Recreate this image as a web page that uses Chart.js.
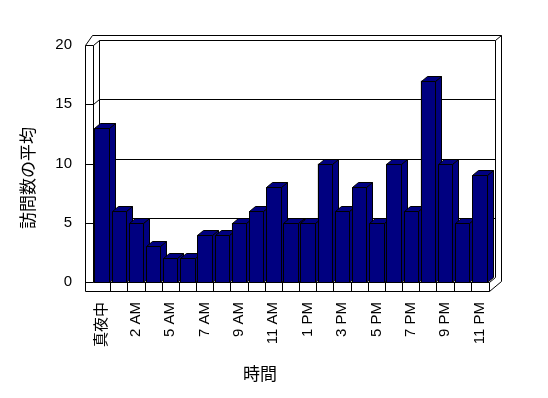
<!DOCTYPE html>
<html lang="ja">
<head>
  <meta charset="UTF-8" />
  <title>訪問数の平均</title>
  <script src="https://cdn.jsdelivr.net/npm/chart.js"></script>
  <style>
    body { margin: 0; background: #fff; }
    #grafico { display: block; }
  </style>
</head>
<body>
  <canvas id="grafico" width="548" height="398"></canvas>

  <script>
    // データ（4 AM の行はない）
    const hours = ['真夜中', '1 AM', '2 AM', '3 AM', '5 AM', '6 AM', '7 AM', '8 AM', '9 AM', '10 AM', '11 AM', '正午',
      '1 PM', '2 PM', '3 PM', '4 PM', '5 PM', '6 PM', '7 PM', '8 PM', '9 PM', '10 PM', '11 PM'];
    const visits = [13, 6, 5, 3, 2, 2, 4, 4, 5, 6, 8, 5, 5, 10, 6, 8, 5, 10, 6, 17, 10, 5, 9];
    const yTicks = [0, 5, 10, 15, 20];
    const xTitle = '時間';
    const yTitle = '訪問数の平均';

    const NAVY = '#000080';
    const DX = 6, DY = 5;   // 奥行き
    const WALL = 8, FLOOR = 9;
    const FONT = "'Liberation Sans', 'Noto Sans CJK JP', sans-serif";
    const JP = "'Noto Sans CJK JP', sans-serif";

    function seg(ctx, pts) {
      ctx.beginPath();
      pts.forEach(([px, py], i) => i ? ctx.lineTo(px + 0.5, py + 0.5) : ctx.moveTo(px + 0.5, py + 0.5));
      ctx.stroke();
    }
    function face(ctx, pts) {
      ctx.beginPath();
      pts.forEach(([px, py], i) => i ? ctx.lineTo(px + 0.5, py + 0.5) : ctx.moveTo(px + 0.5, py + 0.5));
      ctx.closePath();
      ctx.fill();
      ctx.stroke();
    }

    // 壁・床・目盛線
    const walls = {
      id: 'walls',
      beforeDatasetsDraw(chart) {
        const { ctx, chartArea: a, scales: { x, y } } = chart;
        const L = Math.round(a.left), R = Math.round(a.right), T = Math.round(a.top), B = Math.round(a.bottom);
        ctx.save();
        ctx.strokeStyle = '#000';
        ctx.lineWidth = 1;
        // 外枠
        seg(ctx, [[L - WALL, B + FLOOR], [L - WALL, T], [L - 1, T - 2 * DY], [R + 2 * DX + 1, T - 2 * DY],
          [R + 2 * DX + 1, B - 1], [R + 1, B + FLOOR], [L - WALL, B + FLOOR]]);
        // 内側の線
        seg(ctx, [[L, T], [L, B]]);
        seg(ctx, [[L, T], [L + DX, T - DY], [R + DX + 1, T - DY], [R + 2 * DX + 1, T - 2 * DY]]);
        seg(ctx, [[R + DX + 1, T - DY], [R + DX + 1, B - DY]]);
        seg(ctx, [[L + DX, T - DY], [L + DX, B - DY]]);
        seg(ctx, [[L, B], [R + 1, B], [R + 1, B + FLOOR]]);
        seg(ctx, [[R + 1, B], [R + DX + 1, B - DY]]);
        // 目盛線
        yTicks.forEach(v => {
          const yy = Math.round(y.getPixelForValue(v));
          seg(ctx, [[L - WALL, yy], [L, yy]]);
          if (v > 0 && v < 20) seg(ctx, [[L, yy], [L + DX, yy - DY], [R + DX + 1, yy - DY]]);
        });
        // 床の区切り
        for (let i = 1; i < hours.length; i++) {
          const xx = Math.round((x.getPixelForValue(i - 1) + x.getPixelForValue(i)) / 2);
          seg(ctx, [[xx, B], [xx, B + FLOOR]]);
        }
        ctx.restore();
      },
      afterDatasetsDraw(chart) {
        const { ctx } = chart;
        ctx.save();
        ctx.strokeStyle = '#000';
        ctx.fillStyle = NAVY;
        ctx.lineWidth = 1;
        chart.getDatasetMeta(0).data.forEach(bar => {
          const p = bar.getProps(['x', 'y', 'base', 'width'], true);
          const l = Math.round(p.x - p.width / 2), r = Math.round(p.x + p.width / 2);
          const t = Math.round(p.y), b = Math.round(p.base);
          face(ctx, [[r, t], [r + DX, t - DY], [r + DX, b - DY], [r, b]]);
          face(ctx, [[l, t], [l + DX, t - DY], [r + DX, t - DY], [r, t]]);
          face(ctx, [[l, t], [r, t], [r, b], [l, b]]);
        });
        ctx.restore();
      },
      afterDraw(chart) {
        const { ctx } = chart;
        ctx.save();
        ctx.fillStyle = '#000';
        ctx.font = '17px ' + JP;
        ctx.textAlign = 'center';
        ctx.textBaseline = 'middle';
        ctx.fillText(xTitle, 260, 374);
        ctx.translate(28, 178);
        ctx.rotate(-Math.PI / 2);
        ctx.fillText(yTitle, 0, 0);
        ctx.restore();
      }
    };

    new Chart(document.getElementById('grafico'), {
      type: 'bar',
      data: {
        labels: hours,
        datasets: [{
          data: visits,
          backgroundColor: NAVY,
          borderColor: '#000',
          borderWidth: 1,
          barPercentage: 0.84,
          categoryPercentage: 1
        }]
      },
      options: {
        responsive: false,
        animation: false,
        layout: { padding: { top: 45, right: 60, left: 0, bottom: 0 } },
        plugins: {
          legend: { display: false },
          tooltip: { enabled: false }
        },
        scales: {
          x: {
            grid: { display: false, drawTicks: false },
            border: { display: false },
            ticks: {
              autoSkip: false,
              minRotation: 90,
              maxRotation: 90,
              padding: 20,
              color: '#000',
              font: { family: FONT, size: 15 },
              callback: (v, i) => i % 2 === 0 ? hours[i] : ''
            },
            afterFit: s => { s.height = 116; }
          },
          y: {
            min: 0,
            max: 20,
            grid: { display: false, drawTicks: false },
            border: { display: false },
            afterBuildTicks: s => { s.ticks = yTicks.map(v => ({ value: v })); },
            ticks: {
              padding: 21,
              color: '#000',
              font: { family: FONT, size: 15 }
            },
            afterFit: s => { s.width = 93; }
          }
        }
      },
      plugins: [walls]
    });
  </script>
</body>
</html>
